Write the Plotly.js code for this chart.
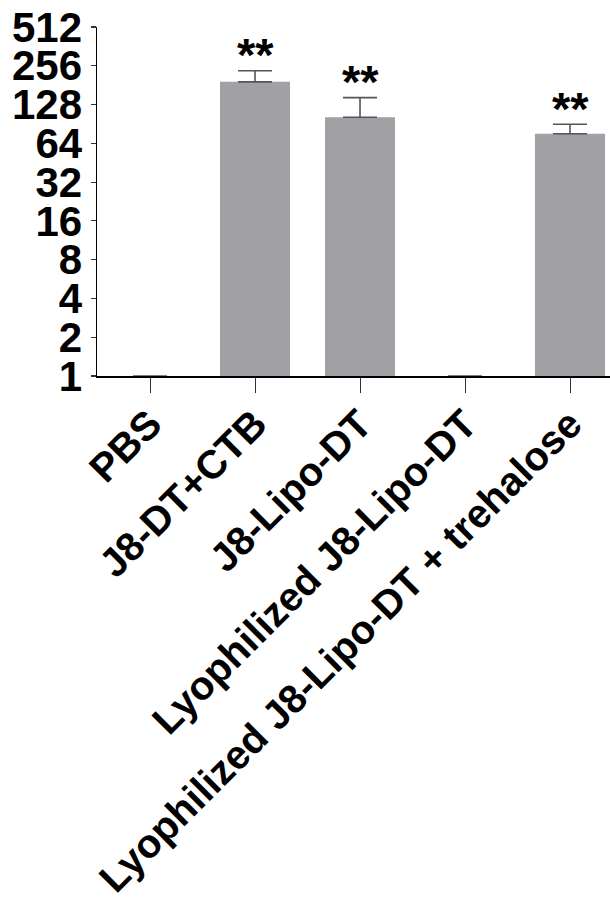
<!DOCTYPE html>
<html>
<head>
<meta charset="utf-8">
<script src="https://cdn.plot.ly/plotly-3.0.1.min.js"></script>
<style>html,body{margin:0;padding:0;background:#fff;}#chart{width:610px;height:911px;}</style>
</head>
<body>
<div id="chart"></div>
<script>
const categories = ["PBS", "J8-DT+CTB", "J8-Lipo-DT", "Lyophilized J8-Lipo-DT", "Lyophilized J8-Lipo-DT + trehalose"];
const meanTiter = [1, 192, 102, 1, 76];
const errorUpper = [0, 42, 43, 0, 14];
const significance = ["", "**", "**", "", "**"];
const yTickVals = [1, 2, 4, 8, 16, 32, 64, 128, 256, 512];
const yTickText = ["1", "2", "4", "8", "16", "32", "64", "128", "256", "512"];

const FONT = "Liberation Sans, Arial, Helvetica, sans-serif";

const trace = {
  type: "bar",
  x: categories,
  y: meanTiter,
  width: 0.667,
  marker: {color: "#a1a0a4", line: {width: 0}},
  error_y: {
    type: "data",
    symmetric: false,
    array: errorUpper,
    arrayminus: meanTiter.map(() => 0),
    color: "#555555",
    thickness: 1.6,
    width: 17
  },
  hoverinfo: "none"
};

const annotations = categories.map((c, i) => significance[i] ? {
  x: c,
  y: Math.log10(meanTiter[i] + errorUpper[i]),
  xref: "x", yref: "y",
  text: significance[i],
  showarrow: false,
  yanchor: "middle",
  yshift: 16,
  font: {family: FONT, size: 47, color: "#000", weight: "bold"}
} : null).filter(a => a);

const layout = {
  width: 610, height: 911,
  margin: {l: 97, r: 0, t: 27, b: 535, pad: 0},
  paper_bgcolor: "#fff", plot_bgcolor: "#fff",
  showlegend: false,
  bargap: 0.333,
  xaxis: {
    type: "category",
    range: [-0.505, 4.381],
    showgrid: false, zeroline: false,
    showline: true, linecolor: "#000", linewidth: 1.5,
    ticks: "outside", ticklen: 15, tickwidth: 1, tickcolor: "#333",
    tickangle: -45,
    ticklabelstandoff: -8,
    tickfont: {family: FONT, size: 40, color: "#000", weight: "bold"},
    automargin: false
  },
  yaxis: {
    type: "log",
    range: [0, Math.log10(512)],
    tickvals: yTickVals, ticktext: yTickText,
    showgrid: false, zeroline: false,
    showline: true, linecolor: "#000", linewidth: 1.5,
    ticks: "outside", ticklen: 5, tickwidth: 1.2, tickcolor: "#333",
    tickfont: {family: FONT, size: 42, color: "#000", weight: "bold"},
    automargin: false
  },
  annotations: annotations
};

Plotly.newPlot("chart", [trace], layout, {displayModeBar: false, staticPlot: true});
</script>
</body>
</html>
